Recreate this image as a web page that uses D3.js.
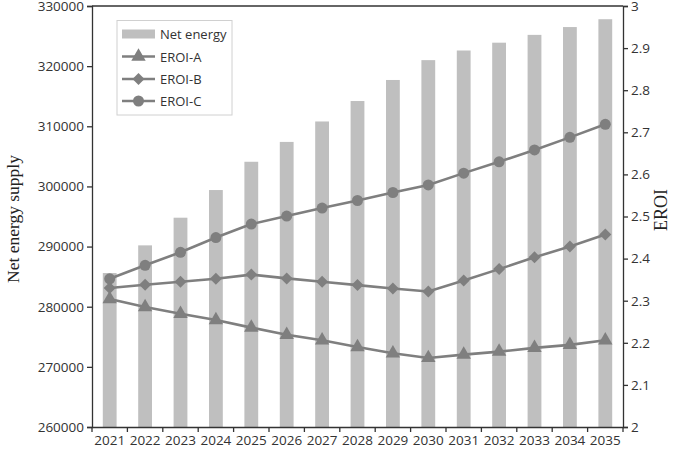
<!DOCTYPE html>
<html><head><meta charset="utf-8">
<script src="https://cdn.jsdelivr.net/npm/d3@7/dist/d3.min.js"></script>
<style>html,body{margin:0;padding:0;background:#fff;}</style>
</head><body>
<svg id="chart" width="685" height="453"></svg>
<script>
const years = ["2021","2022","2023","2024","2025","2026","2027","2028","2029","2030","2031","2032","2033","2034","2035"];
const netEnergy = [285600,290200,294800,299400,304100,307400,310800,314200,317700,321000,322600,323900,325200,326500,327800];
const eroiA = [2.304,2.285,2.269,2.254,2.236,2.219,2.206,2.190,2.175,2.164,2.172,2.179,2.188,2.195,2.206];
const eroiB = [2.330,2.338,2.345,2.352,2.362,2.353,2.345,2.337,2.329,2.322,2.348,2.375,2.403,2.429,2.457];
const eroiC = [2.352,2.384,2.415,2.450,2.482,2.501,2.520,2.538,2.557,2.575,2.603,2.630,2.658,2.688,2.719];
const leftTicks = [260000,270000,280000,290000,300000,310000,320000,330000];
const rightTicks = [2,2.1,2.2,2.3,2.4,2.5,2.6,2.7,2.8,2.9,3];
const seriesNames = ["EROI-A","EROI-B","EROI-C"];
const barName = "Net energy";

const svg = d3.select("#chart");
const m = {left: 92, right: 623, top: 6, bottom: 427};
const fontTick = "'Open Sans', sans-serif";
const axisColor = "#333";
const lineColor = "#7f7f7f";
const barColor = "#bfbfbf";

const x = d3.scaleBand().domain(years).range([m.left, m.right]).paddingInner(0).paddingOuter(0);
const yL = d3.scaleLinear().domain([260000, 330000]).range([m.bottom, m.top]);
const yR = d3.scaleLinear().domain([2, 3]).range([m.bottom, m.top]);
const barW = x.bandwidth() * 0.39;

// bars
svg.append("g").selectAll("rect").data(netEnergy).join("rect")
  .attr("x", (d, i) => x(years[i]) + x.bandwidth()/2 - barW/2)
  .attr("y", d => yL(d))
  .attr("width", barW)
  .attr("height", d => yL(260000) - yL(d))
  .attr("fill", barColor);

// marker shapes (diamond = square rotated 45deg)
const shapes = [d3.symbolTriangle, d3.symbolSquare, d3.symbolCircle];
const sizes = [90, 72, 95];
const rots = [0, 45, 0];
const allSeries = [eroiA, eroiB, eroiC];

const line = d3.line().x((d, i) => x(years[i]) + x.bandwidth()/2).y(d => yR(d));
allSeries.forEach((s, k) => {
  const g = svg.append("g");
  g.append("path").datum(s).attr("d", line).attr("fill", "none")
    .attr("stroke", lineColor).attr("stroke-width", 2.6);
  g.selectAll("path.m").data(s).join("path").attr("class", "m")
    .attr("d", d3.symbol().type(shapes[k]).size(sizes[k]))
    .attr("transform", (d, i) => `translate(${x(years[i]) + x.bandwidth()/2},${yR(d)}) rotate(${rots[k]})`)
    .attr("fill", lineColor);
});

// axes
const styleAxis = g => {
  g.selectAll("path.domain").attr("stroke", axisColor).attr("stroke-width", 1.3);
  g.selectAll(".tick line").attr("stroke", axisColor).attr("stroke-width", 1.3);
  g.selectAll(".tick text").attr("fill", "#333").style("font-family", fontTick).style("font-size", "13.5px");
};
svg.append("g").attr("transform", `translate(${m.left},0)`)
  .call(d3.axisLeft(yL).tickValues(leftTicks).tickFormat(d3.format("d")).tickSizeOuter(0).tickSize(5).tickPadding(3))
  .call(styleAxis);
svg.append("g").attr("transform", `translate(${m.right},0)`)
  .call(d3.axisRight(yR).tickValues(rightTicks).tickFormat(d => d3.format("")(+d.toFixed(1))).tickSizeOuter(0).tickSize(5).tickPadding(3))
  .call(styleAxis);
const xAxis = svg.append("g").attr("transform", `translate(0,${m.bottom})`)
  .call(d3.axisBottom(x).tickSizeOuter(0).tickSize(0).tickPadding(8))
  .call(styleAxis);
// band-edge ticks
const edges = years.map(y => x(y)).concat([m.right]);
xAxis.selectAll("line.edge").data(edges).join("line").attr("class", "edge")
  .attr("x1", d => d).attr("x2", d => d).attr("y1", 0).attr("y2", 5)
  .attr("stroke", axisColor).attr("stroke-width", 1.3);
// top border
svg.append("line").attr("x1", m.left).attr("x2", m.right).attr("y1", m.top).attr("y2", m.top)
  .attr("stroke", axisColor).attr("stroke-width", 1.3);

// axis titles
svg.append("text").attr("transform", `translate(19,219) rotate(-90)`)
  .attr("text-anchor", "middle")
  .style("font-family", "'Liberation Serif', 'Times New Roman', serif").style("font-size", "17.5px").attr("fill", "#222")
  .text("Net energy supply");
svg.append("text").attr("transform", `translate(667,210) rotate(-90)`)
  .attr("text-anchor", "middle")
  .style("font-family", "'Liberation Serif', 'Times New Roman', serif").style("font-size", "18px").attr("fill", "#222")
  .text("EROI");

// legend
const lg = svg.append("g");
lg.append("rect").attr("x", 117).attr("y", 20.5).attr("width", 115).attr("height", 94.5)
  .attr("fill", "#fff").attr("stroke", "#d0d0d0").attr("stroke-width", 1);
const rowY = [34, 56.5, 79, 101];
lg.append("rect").attr("x", 122).attr("y", rowY[0]-4.5).attr("width", 33).attr("height", 9).attr("fill", barColor);
lg.append("text").attr("x", 160).attr("y", rowY[0]).attr("dominant-baseline", "central")
  .style("font-family", fontTick).style("font-size", "13px").attr("fill", "#333").text(barName);
seriesNames.forEach((n, k) => {
  const yy = rowY[k+1];
  lg.append("line").attr("x1", 122).attr("x2", 155).attr("y1", yy).attr("y2", yy)
    .attr("stroke", lineColor).attr("stroke-width", 2.6);
  lg.append("path").attr("d", d3.symbol().type(shapes[k]).size(sizes[k]))
    .attr("transform", `translate(138.5,${yy}) rotate(${rots[k]})`).attr("fill", lineColor);
  lg.append("text").attr("x", 160).attr("y", yy).attr("dominant-baseline", "central")
    .style("font-family", fontTick).style("font-size", "13px").attr("fill", "#333").text(n);
});
</script>
</body></html>
